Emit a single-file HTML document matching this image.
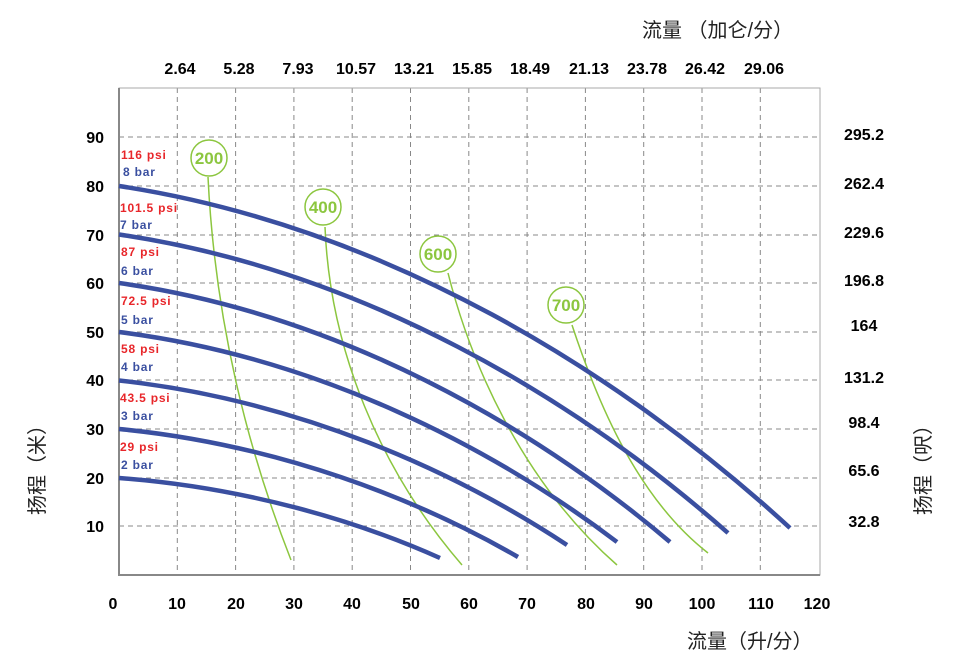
<!DOCTYPE html>
<html><head><meta charset="utf-8"><style>
html,body{margin:0;padding:0;background:#fff}
svg{display:block}
text{font-family:"Liberation Sans","Noto Sans CJK SC",sans-serif}
</style></head><body>
<svg width="960" height="665" viewBox="0 0 960 665" xmlns="http://www.w3.org/2000/svg">
<rect width="960" height="665" fill="#fff"/>
<g stroke="#888" stroke-width="1" stroke-dasharray="5,4" fill="none">
<line x1="177.3" y1="88" x2="177.3" y2="575"/><line x1="235.6" y1="88" x2="235.6" y2="575"/>
<line x1="293.9" y1="88" x2="293.9" y2="575"/><line x1="352.2" y1="88" x2="352.2" y2="575"/>
<line x1="410.5" y1="88" x2="410.5" y2="575"/><line x1="468.8" y1="88" x2="468.8" y2="575"/>
<line x1="527.1" y1="88" x2="527.1" y2="575"/><line x1="585.4" y1="88" x2="585.4" y2="575"/>
<line x1="643.7" y1="88" x2="643.7" y2="575"/><line x1="702" y1="88" x2="702" y2="575"/>
<line x1="760.3" y1="88" x2="760.3" y2="575"/>
<line x1="119" y1="137" x2="820" y2="137"/><line x1="119" y1="186" x2="820" y2="186"/>
<line x1="119" y1="235" x2="820" y2="235"/><line x1="119" y1="283" x2="820" y2="283"/>
<line x1="119" y1="332" x2="820" y2="332"/><line x1="119" y1="380" x2="820" y2="380"/>
<line x1="119" y1="429" x2="820" y2="429"/><line x1="119" y1="478" x2="820" y2="478"/>
<line x1="119" y1="526" x2="820" y2="526"/>
</g>
<rect x="119" y="88" width="701" height="487" fill="none" stroke="#aaa" stroke-width="1"/>
<line x1="119" y1="88" x2="119" y2="576" stroke="#888" stroke-width="2"/>
<line x1="118" y1="575" x2="820" y2="575" stroke="#888" stroke-width="2"/>
<g stroke="#8cc63f" stroke-width="1.5" fill="none">
<path d="M208,177 C214,300 240,430 291,560"/>
<path d="M325,227 C330,350 380,470 462,565"/>
<path d="M448,273 C470,360 520,480 617,565"/>
<path d="M572,325 C600,410 640,500 708,553"/>
</g>
<g stroke="#8cc63f" stroke-width="1.5" fill="#fff">
<circle cx="209" cy="158" r="18"/><circle cx="323" cy="207" r="18"/>
<circle cx="438" cy="254" r="18"/><circle cx="566" cy="305" r="18"/>
</g>
<g fill="#8cc63f" font-size="17" font-weight="bold" text-anchor="middle">
<text x="209" y="164">200</text><text x="323" y="213">400</text>
<text x="438" y="260">600</text><text x="566" y="311">700</text>
</g>
<g stroke="#3a4fa0" stroke-width="4.5" fill="none">
<path d="M119,478 C247.4,487.6 359.8,522 440,558"/>
<path d="M119,429 C278.6,444.4 418.3,499.4 518,557"/>
<path d="M119,380.5 C298.2,400.2 455,471 567,545"/>
<path d="M119,332 C318.2,357.2 492.5,447.5 617,542"/>
<path d="M119,283 C339.4,314.1 532.3,425.5 670,542"/>
<path d="M119,234.5 C362.6,270.3 575.8,398.7 728,533"/>
<path d="M119,186 C387.4,227 622.3,374.1 790,528"/>
</g>
<g font-size="12" font-weight="bold" letter-spacing="0.8">
<text x="121" y="159" fill="#e8262a">116 psi</text><text x="123" y="176" fill="#3a4fa0">8 bar</text>
<text x="120" y="212" fill="#e8262a">101.5 psi</text><text x="120" y="229" fill="#3a4fa0">7 bar</text>
<text x="121" y="256" fill="#e8262a">87 psi</text><text x="121" y="275" fill="#3a4fa0">6 bar</text>
<text x="121" y="305" fill="#e8262a">72.5 psi</text><text x="121" y="324" fill="#3a4fa0">5 bar</text>
<text x="121" y="353" fill="#e8262a">58 psi</text><text x="121" y="371" fill="#3a4fa0">4 bar</text>
<text x="120" y="402" fill="#e8262a">43.5 psi</text><text x="121" y="420" fill="#3a4fa0">3 bar</text>
<text x="120" y="451" fill="#e8262a">29 psi</text><text x="121" y="469" fill="#3a4fa0">2 bar</text>
</g>
<g font-size="16" font-weight="bold" text-anchor="end" fill="#000">
<text x="104" y="143">90</text><text x="104" y="192">80</text><text x="104" y="241">70</text>
<text x="104" y="289">60</text><text x="104" y="338">50</text><text x="104" y="386">40</text>
<text x="104" y="435">30</text><text x="104" y="484">20</text><text x="104" y="532">10</text>
</g>
<g font-size="16" font-weight="bold" text-anchor="middle" fill="#000">
<text x="864" y="140">295.2</text><text x="864" y="189">262.4</text><text x="864" y="238">229.6</text>
<text x="864" y="286">196.8</text><text x="864" y="331">164</text><text x="864" y="383">131.2</text>
<text x="864" y="428">98.4</text><text x="864" y="476">65.6</text><text x="864" y="527">32.8</text>
</g>
<g font-size="16" font-weight="bold" text-anchor="middle" fill="#000">
<text x="113" y="609">0</text><text x="177" y="609">10</text><text x="236" y="609">20</text>
<text x="294" y="609">30</text><text x="352" y="609">40</text><text x="411" y="609">50</text>
<text x="469" y="609">60</text><text x="527" y="609">70</text><text x="586" y="609">80</text>
<text x="644" y="609">90</text><text x="702" y="609">100</text><text x="761" y="609">110</text>
<text x="817" y="609">120</text>
</g>
<g font-size="16" font-weight="bold" text-anchor="middle" fill="#000">
<text x="180" y="74">2.64</text><text x="239" y="74">5.28</text><text x="298" y="74">7.93</text>
<text x="356" y="74">10.57</text><text x="414" y="74">13.21</text><text x="472" y="74">15.85</text>
<text x="530" y="74">18.49</text><text x="589" y="74">21.13</text><text x="647" y="74">23.78</text>
<text x="705" y="74">26.42</text><text x="764" y="74">29.06</text>
</g>
<text x="642" y="37" font-size="20" fill="#222">流量 （加仑/分）</text>
<text x="687" y="648" font-size="20" fill="#222">流量（升/分）</text>
<text transform="translate(44,465) rotate(-90)" font-size="20" fill="#222" text-anchor="middle">扬程（米）</text>
<text transform="translate(930,465) rotate(-90)" font-size="20" fill="#222" text-anchor="middle">扬程（呎）</text>
</svg>
</body></html>
